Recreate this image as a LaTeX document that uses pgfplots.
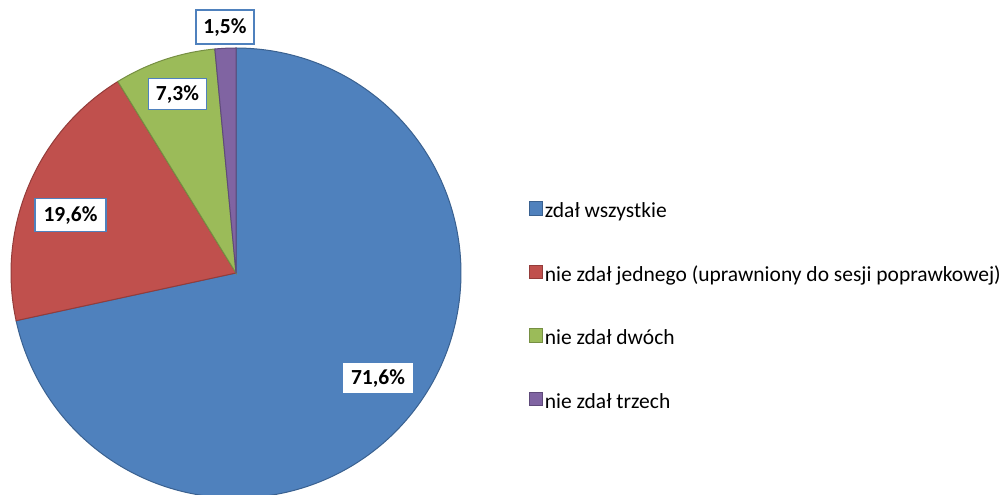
\documentclass[border=0pt]{standalone}
\usepackage{fontspec}
\setmainfont{Carlito}
\usepackage{pgfplots}
\usepackage{pgfplotstable}
\pgfplotsset{compat=1.18}
\definecolor{cA}{HTML}{4F81BD}
\definecolor{cB}{HTML}{C0504D}
\definecolor{cC}{HTML}{9BBB59}
\definecolor{cD}{HTML}{8064A2}
\definecolor{eA}{HTML}{3A6190}
\definecolor{eB}{HTML}{943C3A}
\definecolor{eC}{HTML}{768F43}
\definecolor{eD}{HTML}{5F4A7A}
\pgfplotstableread{
share
71.6
19.6
7.3
1.5
}\piedata
\begin{document}
\begin{tikzpicture}
\path[use as bounding box] (0,0) rectangle (1004pt,495pt);
\pgfplotstablegetelem{0}{share}\of\piedata \let\vA\pgfplotsretval
\pgfplotstablegetelem{1}{share}\of\piedata \let\vB\pgfplotsretval
\pgfplotstablegetelem{2}{share}\of\piedata \let\vC\pgfplotsretval
\pgfplotstablegetelem{3}{share}\of\piedata \let\vD\pgfplotsretval
\pgfmathsetmacro\aA{90-3.6*\vA}
\pgfmathsetmacro\aB{\aA-3.6*\vB}
\pgfmathsetmacro\aC{\aB-3.6*\vC}
\pgfmathsetmacro\aD{\aC-3.6*\vD}
\begin{axis}[
  at={(0,0)}, anchor=south west,
  x=1pt, y=1pt, xmin=0, xmax=1004, ymin=0, ymax=495,
  hide axis,
  legend cell align=left,
  legend image code/.code={\draw[#1, line width=0.6pt] (0pt,-1.9pt) rectangle (13.3pt,11.5pt);},
  legend style={at={(0.5262,0.3792)}, anchor=west, draw=none, fill=none, inner sep=0pt,
    row sep=42.3pt, column sep=2.5pt,
    font=\fontsize{21.5}{25}\selectfont,
    nodes={inner sep=0pt, text height=14pt, text depth=5pt}},
]
\addplot[fill=cA, draw=eA, line width=1pt, domain=\aA:90, samples=200, variable=\t]
  ({236+225*cos(\t)},{222+225*sin(\t)}) -- (axis cs:236,222) -- cycle;
\addlegendentry{zdał wszystkie}
\addplot[fill=cB, draw=eB, line width=1pt, domain=\aB:\aA, samples=80, variable=\t]
  ({236+225*cos(\t)},{222+225*sin(\t)}) -- (axis cs:236,222) -- cycle;
\addlegendentry{nie zdał jednego (uprawniony do sesji poprawkowej)}
\addplot[fill=cC, draw=eC, line width=1pt, domain=\aC:\aB, samples=40, variable=\t]
  ({236+225*cos(\t)},{222+225*sin(\t)}) -- (axis cs:236,222) -- cycle;
\addlegendentry{nie zdał dwóch}
\addplot[fill=cD, draw=eD, line width=1pt, domain=\aD:\aC, samples=12, variable=\t]
  ({236+225*cos(\t)},{222+225*sin(\t)}) -- (axis cs:236,222) -- cycle;
\addlegendentry{nie zdał trzech}
\tikzset{lbl/.style={draw=cA, line width=1.3pt, fill=white, inner sep=0pt,
  font=\fontsize{21.5}{25}\selectfont\bfseries, text height=14pt, text depth=0pt}}
\node[lbl, minimum width=58pt, minimum height=34pt] at (axis cs:225,468) {1,5\%};
\node[lbl, minimum width=58pt, minimum height=31pt] at (axis cs:177.5,401) {7,3\%};
\node[lbl, minimum width=71pt, minimum height=33pt] at (axis cs:70.5,280) {19,6\%};
\node[lbl, minimum width=72pt, minimum height=32pt] at (axis cs:378,117) {71,6\%};
\end{axis}
\end{tikzpicture}
\end{document}
